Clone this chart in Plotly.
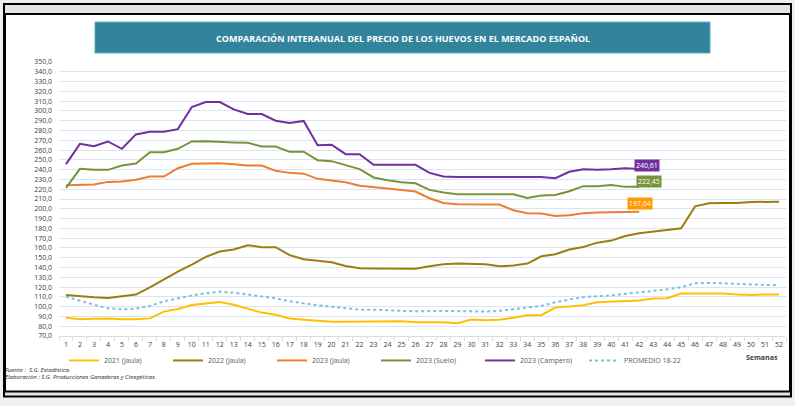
import plotly.graph_objects as go

weeks = list(range(1, 53))
week_labels = [str(w) for w in weeks]

s2021_jaula = [88.7, 87.0, 87.7, 88.0, 87.0, 87.0, 88.0, 94.9, 97.6, 101.7, 103.1, 104.8, 102.0,
               98.3, 93.9, 91.8, 88.0, 86.7, 85.7, 84.6, 84.6, 84.6, 85.0, 84.6, 85.0, 84.0,
               83.8, 84.1, 83.1, 86.9, 86.2, 86.5, 88.6, 91.3, 91.3, 99.1, 100.1, 101.5, 104.5,
               104.9, 105.6, 106.3, 108.3, 108.6, 113.4, 113.4, 113.4, 113.4, 112.4, 112.0, 112.4, 112.4]
s2022_jaula = [112.0, 110.6, 109.6, 108.9, 110.9, 112.3, 119.8, 128.0, 135.8, 143.0, 150.9, 156.3, 158.4,
               162.8, 160.8, 160.8, 152.6, 148.5, 147.1, 145.4, 141.6, 139.2, 138.9, 138.7, 138.8, 138.8,
               141.3, 143.3, 144.0, 143.3, 143.3, 141.3, 142.0, 144.0, 151.5, 153.5, 158.3, 161.0, 165.4,
               167.5, 172.2, 175.0, 176.7, 177.7, 180.1, 202.5, 205.6, 205.9, 205.9, 206.9, 207.3, 207.3]
s2023_jaula = [224.1, 224.8, 224.8, 227.5, 227.8, 229.6, 233.0, 233.0, 241.5, 246.0, 246.3, 246.6, 245.6,
               244.2, 244.2, 238.8, 236.7, 235.9, 230.6, 229.2, 227.2, 223.5, 222.5, 220.8, 219.3, 217.6,
               210.8, 206.0, 204.7, 204.7, 204.7, 204.3, 198.5, 195.4, 195.1, 192.7, 193.4, 195.4, 196.1,
               196.4, 196.8, 197.04]
s2023_suelo = [221.4, 240.8, 239.8, 239.8, 244.2, 246.3, 257.9, 257.9, 261.3, 268.8, 269.1, 268.8, 267.8,
               267.4, 263.7, 263.7, 258.2, 258.4, 249.7, 248.7, 244.6, 240.5, 232.0, 229.2, 227.2, 226.1,
               219.3, 216.6, 214.9, 214.9, 214.9, 214.9, 214.9, 211.1, 213.5, 214.2, 218.0, 223.1, 223.1,
               224.4, 222.4, 222.45]
s2023_campero = [245.6, 266.4, 264.0, 268.8, 261.3, 276.0, 278.7, 278.7, 281.4, 304.0, 309.0, 309.0, 301.6,
                 296.8, 296.8, 290.0, 287.6, 289.8, 265.0, 265.4, 255.8, 255.8, 244.9, 244.9, 245.2, 244.9,
                 236.7, 233.0, 232.6, 232.6, 232.6, 232.6, 232.6, 232.6, 232.6, 231.3, 237.8, 240.5, 239.9,
                 240.5, 241.5, 240.61]
promedio_18_22 = [110.2, 105.8, 102.0, 98.3, 97.3, 98.0, 100.7, 105.5, 108.5, 111.3, 113.7, 115.4, 114.3,
                  112.3, 110.2, 108.5, 105.5, 103.1, 101.4, 100.0, 98.3, 96.9, 96.9, 96.6, 95.7, 95.2,
                  95.7, 95.7, 95.4, 95.0, 95.0, 95.7, 97.1, 99.1, 100.8, 104.5, 107.3, 109.7, 110.7,
                  111.4, 113.1, 114.4, 116.1, 117.8, 119.9, 123.9, 124.3, 123.9, 123.3, 122.6, 122.2, 122.2]

series_names = ["2021 (Jaula)", "2022 (Jaula)", "2023 (Jaula)", "2023 (Suelo)", "2023 (Campero)", "PROMEDIO 18-22"]
title_text = "COMPARACIÓN INTERANUAL DEL PRECIO DE LOS HUEVOS EN EL MERCADO ESPAÑOL"

W, H = 795, 406
ML, MR, MT, MB = 59, 9, 62, 69.5
PW = W - ML - MR
PH = H - MT - MB


def px(x):
    return (x - ML) / PW


def py(y):
    return (H - MB - y) / PH


fig = go.Figure()

styles = [
    (s2021_jaula, "#ffc000", "solid"),
    (s2022_jaula, "#9c7d10", "solid"),
    (s2023_jaula, "#ed7d31", "solid"),
    (s2023_suelo, "#77933c", "solid"),
    (s2023_campero, "#7030a0", "solid"),
    (promedio_18_22, "#7dbfd6", "dot"),
]
for (vals, color, dash), name in zip(styles, series_names):
    fig.add_trace(go.Scatter(
        x=weeks[:len(vals)], y=vals, mode="lines", name=name,
        line=dict(color=color, width=2, dash=dash),
        hoverinfo="skip",
    ))

# end labels
for vals, bg, xs, ys in [(s2023_campero, "#7030a0", 8, 4),
                         (s2023_suelo, "#77933c", 10, 5),
                         (s2023_jaula, "#ff9a00", 1, 8)]:
    fig.add_annotation(
        x=len(vals), y=vals[-1], xref="x", yref="y",
        text=f"{vals[-1]:.2f}".replace(".", ","), showarrow=False,
        xshift=xs, yshift=ys, bgcolor=bg, borderpad=1,
        font=dict(family="Open Sans", size=7, color="white"),
    )

shapes = [
    dict(type="rect", xref="paper", yref="paper", x0=px(4), x1=px(791), y0=py(4), y1=py(397),
         fillcolor="#e4e4e4", line=dict(color="black", width=2), layer="below"),
    dict(type="rect", xref="paper", yref="paper", x0=px(5), x1=px(790), y0=py(14), y1=py(392),
         fillcolor="white", line=dict(color="black", width=2), layer="below"),
    dict(type="rect", xref="paper", yref="paper", x0=px(95), x1=px(710), y0=py(22), y1=py(53),
         fillcolor="#31849b", line=dict(color="#5aaec4", width=1), layer="below"),
]

annotations = [
    dict(xref="paper", yref="paper", x=px(402.5), y=py(38), xanchor="center", yanchor="middle",
         text=f"<b>{title_text}</b>",
         showarrow=False, font=dict(family="Open Sans", size=9, color="white")),
    dict(xref="paper", yref="paper", x=px(762), y=py(358), xanchor="center", yanchor="middle",
         text="<b>Semanas</b>",
         showarrow=False, font=dict(family="Open Sans", size=7, color="#404040")),
    dict(xref="paper", yref="paper", x=px(3), y=py(371), xanchor="left", yanchor="middle",
         text="<i>Fuente :  S.G. Estadística.</i>",
         showarrow=False, font=dict(family="Open Sans", size=6, color="#262626")),
    dict(xref="paper", yref="paper", x=px(3), y=py(378), xanchor="left", yanchor="middle",
         text="<i>Elaboración : S.G. Producciones Ganaderas y Cinegéticas.</i>",
         showarrow=False, font=dict(family="Open Sans", size=6, color="#262626")),
]

fig.update_layout(
    width=W, height=H,
    margin=dict(l=ML, r=MR, t=MT, b=MB, pad=0),
    paper_bgcolor="#efefef", plot_bgcolor="rgba(0,0,0,0)",
    separators=",.",
    font=dict(family="Open Sans", size=7, color="#595959"),
    shapes=shapes,
    annotations=list(fig.layout.annotations) + annotations,
    showlegend=True,
    legend=dict(orientation="h", x=px(64), y=py(361), xanchor="left", yanchor="middle",
                entrywidth=59, entrywidthmode="pixels", bgcolor="rgba(0,0,0,0)",
                font=dict(family="Open Sans", size=7, color="#595959"), tracegroupgap=0,
                itemwidth=30),
    xaxis=dict(range=[0.5, 52.5], tickmode="array", tickvals=weeks, ticktext=week_labels,
               showgrid=False, zeroline=False, showline=True, linecolor="#d6dde8", linewidth=1,
               ticks="", ticklabelstandoff=2, tickfont=dict(size=7, color="#404040"),
               minor=dict(tickmode="array", tickvals=[w - 0.5 for w in weeks] + [52.5],
                          ticks="outside", ticklen=4, tickcolor="#d6dde8", showgrid=False)),
    yaxis=dict(range=[70, 350], dtick=10, tick0=70, tickformat=".1f", showgrid=True,
               gridcolor="#d9e4f2", gridwidth=1, zeroline=False, showline=False, ticks="",
               ticklabelstandoff=6, tickfont=dict(size=7, color="#404040")),
)

fig.write_html("out.html", config={"displayModeBar": False},
               post_script="document.body.style.margin='0';document.body.style.padding='0';")
